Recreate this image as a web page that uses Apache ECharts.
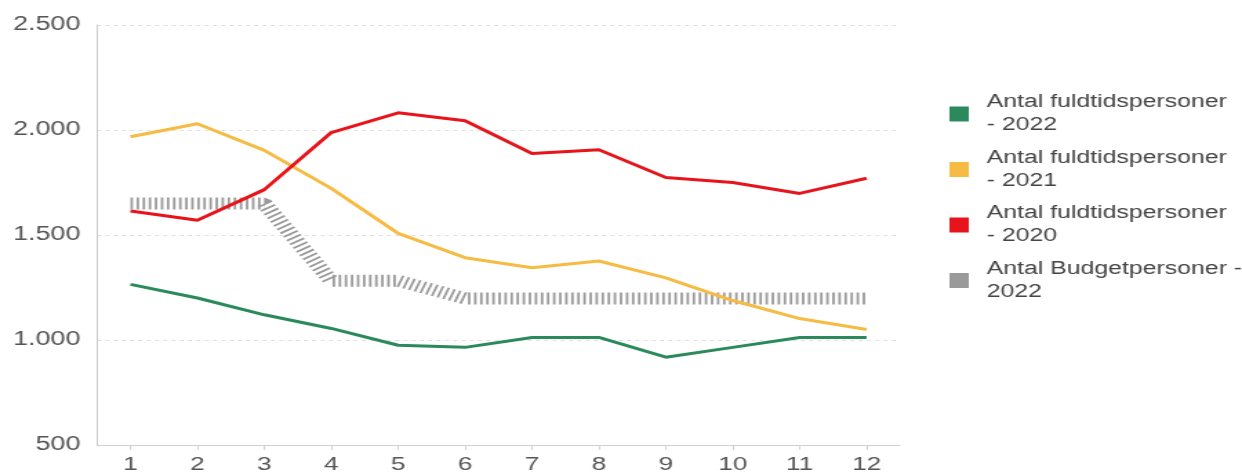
<!DOCTYPE html>
<html><head><meta charset="utf-8">
<script src="https://cdn.jsdelivr.net/npm/echarts@6/dist/echarts.min.js"></script>
<style>
html,body{margin:0;padding:0;background:#fff;overflow:hidden}
#wrap{width:1242px;height:474px;overflow:hidden}
#c{width:900px;height:474px;transform:scaleX(1.38);transform-origin:0 0}
</style>
</head><body><div id="wrap"><div id="c"></div></div>
<script>
const categories = ['1','2','3','4','5','6','7','8','9','10','11','12'];
const names = ['Antal fuldtidspersoner - 2022','Antal fuldtidspersoner - 2021','Antal fuldtidspersoner - 2020','Antal Budgetpersoner - 2022'];
const legendLabels = ['Antal fuldtidspersoner\n- 2022','Antal fuldtidspersoner\n- 2021','Antal fuldtidspersoner\n- 2020','Antal Budgetpersoner -\n2022'];
const v2022 = [1265,1200,1120,1055,975,965,1012,1012,918,965,1012,1012];
const v2021 = [1968,2030,1903,1722,1508,1392,1344,1376,1296,1188,1102,1050];
const v2020 = [1614,1570,1716,1988,2082,2044,1888,1906,1774,1750,1698,1770];
const vBudget = [1650,1650,1650,1282,1282,1198,1198,1198,1198,1198,1198,1198];
const colors = ['#2a8a5c','#f6bb43','#e8141b','#9a9a9a'];

const FONT = 'Liberation Sans, Arial, sans-serif';
const chart = echarts.init(document.getElementById('c'), null, {renderer:'canvas', width:900, height:474});
const fmt = v => String(v).replace(/\B(?=(\d{3})+(?!\d))/g, '.');
chart.setOption({
  animation:false,
  color: colors,
  grid:{left:70.3,right:247.8,top:25,bottom:27,containLabel:false},
  xAxis:{type:'category',data:categories,boundaryGap:true,
    axisLine:{lineStyle:{color:'#d0d0d0',width:1}},
    axisTick:{show:true,alignWithLabel:true,length:5,lineStyle:{color:'#d0d0d0'}},
    axisLabel:{color:'#555',fontSize:19,fontFamily:FONT,margin:10}},
  yAxis:{type:'value',min:500,max:2500,interval:500,
    axisLine:{show:true,lineStyle:{color:'#c8c8c8',width:1}},
    axisTick:{show:false},
    splitLine:{show:true,lineStyle:{color:'#e0e0e0',type:[3,3],width:1}},
    axisLabel:{color:'#555',fontSize:19.5,fontFamily:FONT,margin:12,formatter:fmt}},
  legend:{orient:'vertical',left:683,top:86,itemWidth:14,itemHeight:15,itemGap:9.5,icon:'rect',
    data:names,
    formatter: n => legendLabels[names.indexOf(n)],
    textStyle:{color:'#444',fontSize:18,lineHeight:23,fontFamily:FONT,padding:[0,0,0,8]}},
  series:[
    {name:names[3],type:'line',data:vBudget,symbol:'none',z:1,
      itemStyle:{color:colors[3]},
      lineStyle:{color:colors[3],width:12,type:[1.8,2.6]}},
    {name:names[0],type:'line',data:v2022,symbol:'none',z:3,itemStyle:{color:colors[0]},lineStyle:{color:colors[0],width:3}},
    {name:names[1],type:'line',data:v2021,symbol:'none',z:3,itemStyle:{color:colors[1]},lineStyle:{color:colors[1],width:3}},
    {name:names[2],type:'line',data:v2020,symbol:'none',z:3,itemStyle:{color:colors[2]},lineStyle:{color:colors[2],width:3}}
  ]
});
</script></body></html>
